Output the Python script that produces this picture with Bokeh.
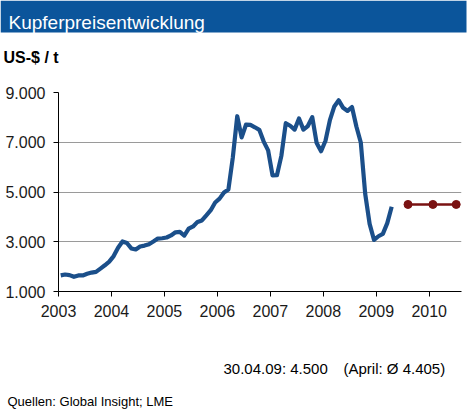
from bokeh.plotting import figure
from bokeh.models import FixedTicker, Range1d
from bokeh.layouts import column
from bokeh.core.properties import value
from bokeh.embed import file_html
from bokeh.resources import INLINE

# ---- data (LME copper, US-$/t, monthly averages Jan 2003 - Apr 2009) ----
price_2003 = [1648, 1683, 1660, 1590, 1645, 1646, 1711, 1760, 1790, 1922, 2055, 2201]
price_2004 = [2423, 2759, 3010, 2949, 2732, 2688, 2809, 2845, 2900, 3011, 3128, 3141]
price_2005 = [3170, 3254, 3379, 3394, 3249, 3524, 3614, 3798, 3857, 4059, 4269, 4577]
price_2006 = [4734, 4982, 5103, 6387, 8046, 7197, 7712, 7695, 7602, 7500, 7027, 6674]
price_2007 = [5669, 5676, 6452, 7766, 7662, 7507, 7959, 7508, 7651, 8008, 6967, 6640]
price_2008 = [7061, 7888, 8439, 8685, 8383, 8260, 8414, 7634, 6991, 4926, 3717, 3072]
price_2009 = [3221, 3315, 3750, 4407]
start_year = 2003

forecast_x = [2009.60, 2010.07, 2010.51]
forecast_y = [4500, 4500, 4500]

y_ticks = [1000, 3000, 5000, 7000, 9000]
y_tick_labels = ["1.000", "3.000", "5.000", "7.000", "9.000"]
x_ticks = [2003, 2004, 2005, 2006, 2007, 2008, 2009, 2010]

title_text = "Kupferpreisentwicklung"
unit_text = "US-$ / t"
note_left = "30.04.09: 4.500"
note_right = "(April: Ø  4.405)"
source_text = "Quellen: Global Insight; LME"

prices = price_2003 + price_2004 + price_2005 + price_2006 + price_2007 + price_2008 + price_2009
months_x = [start_year + (i + 0.5) / 12.0 for i in range(len(prices))]

FONT = "Liberation Sans"
W = 467
HEAD_H = 70
MAIN_H = 260
FOOT_H = 409 - HEAD_H - MAIN_H
FL, FR = 58, 461
FT, FB = 92 - HEAD_H, 291 - HEAD_H  # frame edges within main figure


def no_align(f):
    if "frame_align" in f.properties():
        f.frame_align = False


def blank(height):
    f = figure(width=W, height=height, output_backend="svg", toolbar_location=None,
               x_range=Range1d(0, W), y_range=Range1d(height, 0),
               x_axis_type=None, y_axis_type=None,
               min_border=0, min_border_left=0, min_border_right=0,
               min_border_top=0, min_border_bottom=0)
    f.outline_line_color = None
    f.grid.visible = False
    f.background_fill_color = "white"
    f.border_fill_color = "white"
    no_align(f)
    return f


def put(f, text, x, y, size, bold=False, color="black"):
    f.text(x=[x], y=[y], text=[text], text_font=value(FONT), text_font_size=value(size),
           text_font_style="bold" if bold else "normal", text_color=color,
           text_baseline="alphabetic", text_align="left")


# ---- header ----
head = blank(HEAD_H)
head.quad(left=[0], right=[466], top=[0], bottom=[32], fill_color="#0B559B", line_color=None)
put(head, title_text, 8, 22, "19px", color="white")
put(head, unit_text, 3, 57, "16px", bold=True)

# ---- main chart ----
p = figure(width=W, height=MAIN_H, output_backend="svg", toolbar_location=None,
           x_range=Range1d(2003.0, 2010.61), y_range=Range1d(1000, 9000),
           min_border_left=FL, min_border_right=W - FR,
           min_border_top=FT, min_border_bottom=MAIN_H - FB)
no_align(p)
p.outline_line_color = None
p.background_fill_color = "white"
p.border_fill_color = "white"

p.xgrid.visible = False
p.ygrid.ticker = FixedTicker(ticks=y_ticks)
p.ygrid.grid_line_color = "#9a9a9a"
p.ygrid.grid_line_width = 1

for ax in (p.xaxis[0], p.yaxis[0]):
    ax.axis_line_color = "black"
    ax.axis_line_width = 1
    ax.major_tick_line_color = "black"
    ax.major_tick_in = 0
    ax.major_tick_out = 5
    ax.minor_tick_line_color = None
    ax.major_label_text_font = FONT
    ax.major_label_text_font_size = "16px"
    ax.major_label_text_color = "#1a1a1a"
    ax.major_label_standoff = 8

p.xaxis[0].ticker = FixedTicker(ticks=x_ticks)
p.yaxis[0].ticker = FixedTicker(ticks=y_ticks)
p.yaxis[0].major_label_overrides = {t: l for t, l in zip(y_ticks, y_tick_labels)}
p.xaxis[0].major_label_overrides = {t: str(t) for t in x_ticks}

p.line(months_x, prices, line_color="#1B4F8A", line_width=4.2, line_join="round")
p.line(forecast_x, forecast_y, line_color="#7A1212", line_width=2.5)
p.scatter(forecast_x, forecast_y, size=8, fill_color="#7A1212", line_color="#7A1212")

# ---- footer ----
foot = blank(FOOT_H)
y0 = HEAD_H + MAIN_H
put(foot, note_left, 223, 368 - y0, "15px")
put(foot, note_right, 343, 368 - y0, "15px")
put(foot, source_text, 7, 401 - y0, "13px")

layout = column(head, p, foot, spacing=0)
open("out.html", "w").write(file_html(layout, INLINE))
